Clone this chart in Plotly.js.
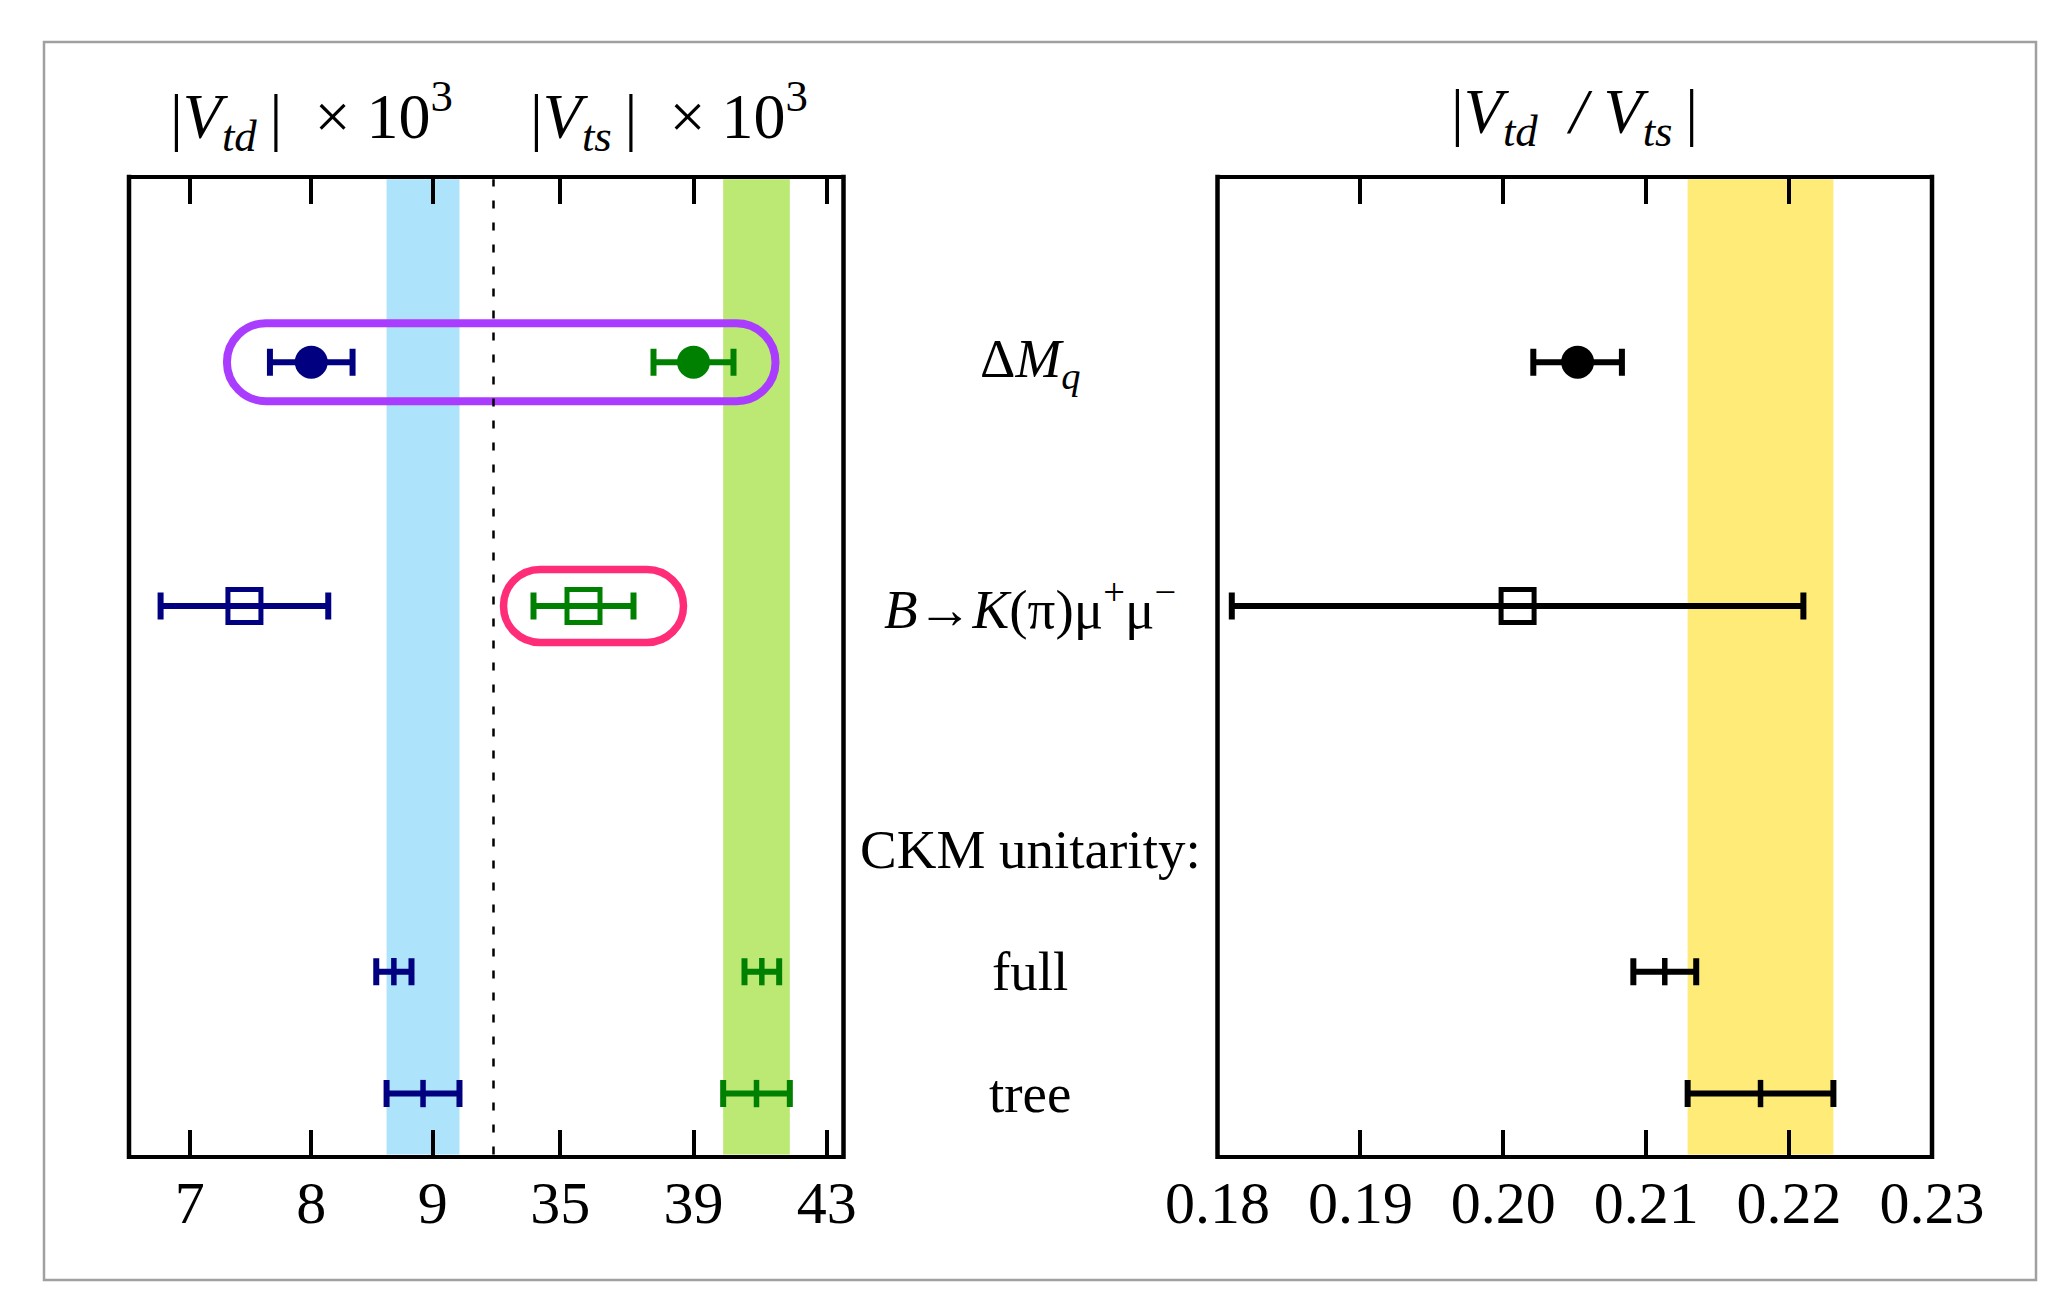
<!DOCTYPE html>
<html>
<head>
<meta charset="utf-8">
<script src="https://cdn.plot.ly/plotly-3.0.1.min.js"></script>
<style>
html, body { margin: 0; padding: 0; background: #ffffff; }
#chart { width: 2055px; height: 1297px; }
</style>
</head>
<body>
<div id="chart"></div>
<script>
// ---------------- data ----------------
const methods = ['ΔMq', 'B→K(π)μ+μ−', 'CKM unitarity: full', 'CKM unitarity: tree'];
const methodRow = [6, 4, 1, 0];
const vtd = [8.00, 7.45, 8.68, 8.92];          // |Vtd| x 10^3
const vtdErr = [0.34, 0.69, 0.145, 0.30];
const vts = [39.0, 35.7, 41.05, 40.89];        // |Vts| x 10^3
const vtsErr = [1.2, 1.5, 0.52, 1.0];
const ratio = [0.2052, 0.201, 0.2113, 0.2180]; // |Vtd/Vts|
const ratioErr = [0.0031, 0.020, 0.0022, 0.0051];
const rowLabels = ['Δ<i>M</i><sub><i>q</i></sub>', '<i>B</i>→<i>K</i>(π)μ<sup>+</sup>μ<sup>−</sup>', 'CKM unitarity:', 'full', 'tree'];
const rowLabelPos = [6, 4, 2, 1, 0];
const vtdTicks = [7, 8, 9];
const vtsTicks = [35, 39, 43];
const ratioTicks = [0.18, 0.19, 0.20, 0.21, 0.22, 0.23];
const vtdRange = [6.5, 9.5];
const vtsRange = [33, 43.5];
const ratioRange = [0.18, 0.23];
const rowRange = [-0.5, 7.5];
const bandIndex = 3; // tree-level band
const titles = [
  '|<i>V</i><sub><i>td</i></sub>\u2009|  × 10<sup>3</sup>',
  '|<i>V</i><sub><i>ts</i></sub>\u2009|  × 10<sup>3</sup>',
  '|<i>V</i><sub><i>td</i></sub>  <i>/</i> <i>V</i><sub><i>ts</i></sub>\u2009|'
];

// ---------------- styling ----------------
const W = 2055, H = 1297;
const FONT = 'Liberation Serif, Times New Roman, serif';
const NAVY = '#000080', GREEN = '#008000', BLACK = '#000000';
const LW = 4.5;
const fx = p => p / W;
const fy = p => 1 - p / H;
const dom1 = [fx(129), fx(493.5)];
const dom2 = [fx(493.5), fx(843.5)];
const dom3 = [fx(1217.5), fx(1932)];
const domY = [fy(1154.5), fy(179.3)];

const symbols = ['circle', 'square-open', 'line-ns', 'line-ns'];
const sizes = [33, 33, 19.5, 19.5];
const lineW = [0, 5, 5.5, 5.5];

function trace(x, err, color, xa, ya) {
  return {
    type: 'scatter', mode: 'markers', x: x, y: methodRow, xaxis: xa, yaxis: ya,
    error_x: { type: 'data', array: err, visible: true, color: color, thickness: 6, width: 13.5 },
    marker: { symbol: symbols, size: sizes, color: color, opacity: 1, line: { color: color, width: lineW } },
    hoverinfo: 'skip', showlegend: false, cliponaxis: false
  };
}

function xAxis(domain, range, tickvals, anchor, fmt) {
  const a = {
    domain: domain, range: range, anchor: anchor, tickmode: 'array', tickvals: tickvals,
    ticks: 'inside', ticklen: 25, tickwidth: 4, tickcolor: BLACK,
    showline: true, linewidth: LW, linecolor: BLACK, mirror: 'ticks',
    showgrid: false, zeroline: false, fixedrange: true, ticklabelstandoff: -8,
    tickfont: { family: FONT, size: 60, color: BLACK }
  };
  if (fmt) a.tickformat = fmt;
  return a;
}
function yAxis(anchor) {
  return {
    domain: domY, range: rowRange, anchor: anchor, showline: false, showticklabels: false,
    ticks: '', showgrid: false, zeroline: false, fixedrange: true
  };
}

const traces = [
  trace(vtd, vtdErr, NAVY, 'x', 'y'),
  trace(vts, vtsErr, GREEN, 'x2', 'y'),
  trace(ratio, ratioErr, BLACK, 'x3', 'y3')
];

const annotations = [];
[['x domain', titles[0]], ['x2 domain', titles[1]], ['x3 domain', titles[2]]].forEach(function (t) {
  annotations.push({ xref: t[0], x: 0.5, yref: 'paper', y: fy(116), xanchor: 'center', yanchor: 'middle',
    text: t[1], showarrow: false, font: { family: FONT, size: 64, color: BLACK } });
});
rowLabels.forEach(function (lab, i) {
  annotations.push({ xref: 'paper', x: fx(1030), yref: 'y', y: rowLabelPos[i], xanchor: 'center', yanchor: 'middle',
    text: lab, showarrow: false, font: { family: FONT, size: 55, color: BLACK } });
});

const ext = 4.5 / ((domY[1] - domY[0]) * H);
const baseShapes = [
  // decorative paper border
  { type: 'rect', xref: 'paper', yref: 'paper', x0: fx(44), x1: fx(2036), y0: fy(1280), y1: fy(42),
    line: { color: '#a0a0a0', width: 2.5 }, fillcolor: 'rgba(0,0,0,0)', layer: 'below' },
  // bands (tree-level values)
  { type: 'rect', xref: 'x', yref: 'y domain', x0: vtd[bandIndex] - vtdErr[bandIndex], x1: vtd[bandIndex] + vtdErr[bandIndex],
    y0: 0, y1: 1, fillcolor: '#ade3fb', line: { width: 0 }, layer: 'below' },
  { type: 'rect', xref: 'x2', yref: 'y domain', x0: vts[bandIndex] - vtsErr[bandIndex], x1: vts[bandIndex] + vtsErr[bandIndex],
    y0: 0, y1: 1, fillcolor: '#bbe973', line: { width: 0 }, layer: 'below' },
  { type: 'rect', xref: 'x3', yref: 'y3 domain', x0: ratio[bandIndex] - ratioErr[bandIndex], x1: ratio[bandIndex] + ratioErr[bandIndex],
    y0: 0, y1: 1, fillcolor: '#ffeb78', line: { width: 0 }, layer: 'below' }
];
const topShapes = [
  // dashed separator between |Vtd| and |Vts| scales
  { type: 'line', xref: 'x domain', yref: 'y domain', x0: 1, x1: 1, y0: 0, y1: 1,
    line: { color: BLACK, width: 2.5, dash: '8px,14px' } },
  // vertical frame edges
  { type: 'line', xref: 'x domain', yref: 'y domain', x0: 0, x1: 0, y0: -ext, y1: 1 + ext, line: { color: BLACK, width: LW } },
  { type: 'line', xref: 'x2 domain', yref: 'y domain', x0: 1, x1: 1, y0: -ext, y1: 1 + ext, line: { color: BLACK, width: LW } },
  { type: 'line', xref: 'x3 domain', yref: 'y3 domain', x0: 0, x1: 0, y0: -ext, y1: 1 + ext, line: { color: BLACK, width: LW } },
  { type: 'line', xref: 'x3 domain', yref: 'y3 domain', x0: 1, x1: 1, y0: -ext, y1: 1 + ext, line: { color: BLACK, width: LW } }
];

const layout = {
  width: W, height: H, autosize: false,
  margin: { l: 0, r: 0, t: 0, b: 0, pad: 0 },
  paper_bgcolor: '#ffffff', plot_bgcolor: 'rgba(0,0,0,0)',
  font: { family: FONT, color: BLACK },
  showlegend: false,
  xaxis: xAxis(dom1, vtdRange, vtdTicks, 'y'),
  xaxis2: xAxis(dom2, vtsRange, vtsTicks, 'y'),
  xaxis3: xAxis(dom3, ratioRange, ratioTicks, 'y3', '.2f'),
  yaxis: yAxis('x'),
  yaxis3: yAxis('x3'),
  annotations: annotations,
  shapes: baseShapes.concat(topShapes)
};

const gd = document.getElementById('chart');
Plotly.newPlot(gd, traces, layout, { staticPlot: true, displayModeBar: false }).then(function () {
  const fl = gd._fullLayout;
  const s = fl._size;
  const X = (ax, v) => fl[ax]._offset + fl[ax].l2p(v);
  const Y = v => fl.yaxis._offset + fl.yaxis.l2p(v);
  const P = (x, y) => ((x - s.l) / s.w).toFixed(5) + ',' + (1 - (y - s.t) / s.h).toFixed(5);
  function stadium(l, r, t, b, rad) {
    const k = 0.5523 * rad;
    return 'M' + P(l + rad, t) + ' L' + P(r - rad, t) +
      ' C' + P(r - rad + k, t) + ' ' + P(r, t + rad - k) + ' ' + P(r, t + rad) +
      ' L' + P(r, b - rad) +
      ' C' + P(r, b - rad + k) + ' ' + P(r - rad + k, b) + ' ' + P(r - rad, b) +
      ' L' + P(l + rad, b) +
      ' C' + P(l + rad - k, b) + ' ' + P(l, b - rad + k) + ' ' + P(l, b - rad) +
      ' L' + P(l, t + rad) +
      ' C' + P(l, t + rad - k) + ' ' + P(l + rad - k, t) + ' ' + P(l + rad, t) + ' Z';
  }
  // highlight around the ΔMq row (both |Vtd| and |Vts|)
  const y0 = Y(methodRow[0]);
  const purple = {
    type: 'path', xref: 'paper', yref: 'paper',
    path: stadium(X('xaxis', vtd[0] - vtdErr[0]) - 43, X('xaxis2', vts[0] + vtsErr[0]) + 42, y0 - 39, y0 + 39, 39),
    line: { color: '#aa3cff', width: 8 }, fillcolor: 'rgba(0,0,0,0)'
  };
  // highlight around B→K(π)μμ |Vts|
  const y1 = Y(methodRow[1]);
  const pink = {
    type: 'path', xref: 'paper', yref: 'paper',
    path: stadium(X('xaxis2', vts[1] - vtsErr[1]) - 30, X('xaxis2', vts[1] + vtsErr[1]) + 50, y1 - 36.5, y1 + 36.5, 36.5),
    line: { color: '#ff2d78', width: 7.5 }, fillcolor: 'rgba(0,0,0,0)'
  };
  return Plotly.relayout(gd, { shapes: baseShapes.concat([purple, pink]).concat(topShapes) });
});
</script>
</body>
</html>
